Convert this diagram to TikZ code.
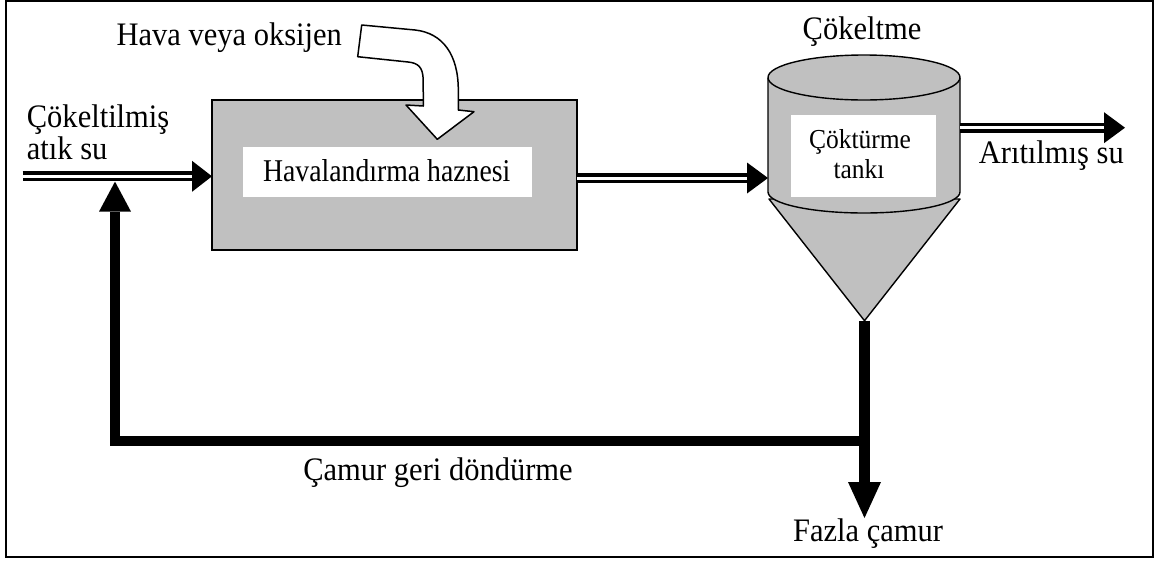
\documentclass[tikz,border=0pt]{standalone}
\usepackage{fontspec}
\setmainfont{Liberation Serif}
\newfontfamily\lblfont{Liberation Serif}[FakeStretch=0.93]
\newfontfamily\boxfont{Liberation Serif}[FakeStretch=0.875]
\usetikzlibrary{arrows.meta}
\definecolor{tankgray}{RGB}{192,192,192}

\tikzset{
  lbl/.style={font=\lblfont\fontsize{32.8}{36}\selectfont, inner sep=0pt, anchor=base},
  tanklbl/.style={font=\lblfont\fontsize{27.4}{30}\selectfont, inner sep=0pt, anchor=base},
  boxlbl/.style={font=\boxfont\fontsize{31.7}{34}\selectfont, inner sep=0pt, anchor=base},
  whitepad/.style={fill=white, inner sep=0pt, outer sep=0pt},
  unitbox/.style={draw, fill=tankgray, line width=1.6pt, inner sep=0pt, outer sep=0pt},
  pipe/.style={draw, line width=3.4pt, double=white, double distance=3pt},
  sludge/.style={line width=10.5pt},
  frame/.style={line width=2pt},
}

\begin{document}
\begin{tikzpicture}[x=1pt, y=-1pt]
\useasboundingbox (0,0) rectangle (1157,563);

% outer frame
\draw[frame] (6,0.9) rectangle (1152.5,557.3);

% aeration basin
\node[unitbox, minimum width=365pt, minimum height=150pt] (aer) at (394.5,175) {};
\node[whitepad, minimum width=289pt, minimum height=50.5pt] (aerpad) at (387.5,172) {};
\node[boxlbl] (aerlbl) at (386.7,181) {Havalandırma haznesi};

% settling tank: cone, cylinder body and lid
\draw[fill=tankgray, line width=1.4pt, line join=round]
  (769,199) -- (864.5,320.7) -- (960,199) -- cycle;
\draw[fill=tankgray, line width=1.4pt]
  (768,78) -- (768,192) arc[start angle=180, end angle=0, x radius=96, y radius=21] -- (960,78);
\draw[fill=tankgray, line width=1.4pt] (864,77.5) ellipse [x radius=96, y radius=22.5];
\node[whitepad, minimum width=145pt, minimum height=82pt] (tankpad) at (863.5,156) {};
\node[tanklbl] (tanklbl1) at (860,148.3) {Çöktürme};
\node[tanklbl] (tanklbl2) at (859,178.3) {tankı};

\coordinate (tankW) at (768,178);
\coordinate (tankE) at (960,127.7);
\coordinate (conetip) at (864.5,320.7);

% air / oxygen supply arrow
\draw[fill=white, line width=1.5pt, line join=round]
  (361.7,25) -- (415,30) .. controls (443,33) and (458.3,55) .. (458.3,90)
  -- (458.3,110) -- (474,111.7) -- (437.3,139.3) -- (406,105) -- (423.3,106)
  -- (423.2,80) .. controls (423,67) and (418,63) .. (408,62)
  -- (357.7,56.7) -- cycle;

% water lines
\coordinate (inlet) at (22.7,176.3);
\coordinate (outlet) at (1125,127.7);
\draw[pipe, -{Triangle[width=31pt, length=20pt, line width=0pt]}] (inlet) -- (inlet -| aer.west);
\draw[pipe, -{Triangle[width=31pt, length=21pt, line width=0pt]}] (aer.east |- tankW) -- (tankW);
\draw[pipe, -{Triangle[width=31pt, length=21pt, line width=0pt]}] (tankE) -- (outlet);

% sludge lines
\coordinate (junction) at (864.5,441);
\coordinate (waste) at (864.5,518);
\coordinate (rettip) at (115,181.6);
\draw[sludge, -{Triangle[width=33pt, length=36pt, line width=0pt]}] (conetip) -- (waste);
\draw[sludge, line join=miter, -{Triangle[width=32pt, length=30pt, line width=0pt]}]
  (junction) -- (rettip |- junction) -- (rettip);

% labels
\node[lbl] (airlbl) at (229.2,45) {Hava veya oksijen};
\node[lbl, anchor=base west] (inlbl1) at (26.7,127) {Çökeltilmiş};
\node[lbl, anchor=base west] (inlbl2) at (26.7,159) {atık su};
\node[lbl] (setlbl) at (862,39) {Çökeltme};
\node[lbl] (outlbl) at (1051.3,163.3) {Arıtılmış su};
\node[lbl] (retlbl) at (438,480) {Çamur geri döndürme};
\node[lbl] (wastelbl) at (868,541.5) {Fazla çamur};
\end{tikzpicture}
\end{document}
